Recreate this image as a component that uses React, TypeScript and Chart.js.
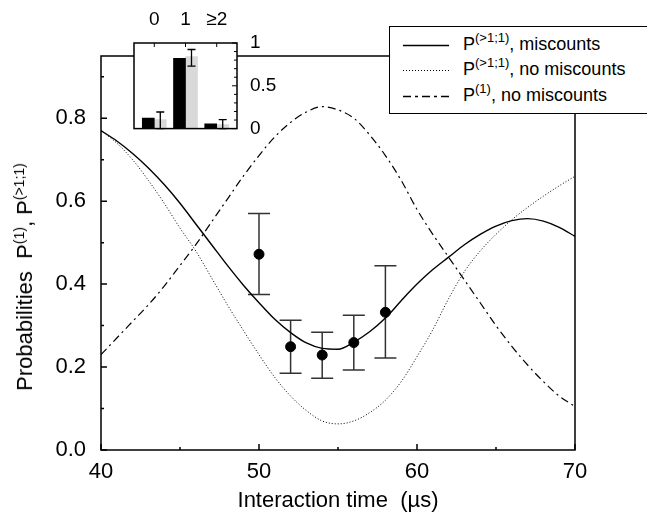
import React, { useEffect, useRef } from 'react';
import { Chart, registerables } from 'chart.js';

Chart.register(...registerables);

const FONT = '"Liberation Sans", Arial, Helvetica, sans-serif';

// Interaction time grid (µs)
const TIME = [40, 41, 42, 43, 44, 45, 46, 47, 48, 49, 50, 51, 52, 53, 54, 55, 56, 57, 58, 59, 60, 61, 62, 63, 64, 65, 66, 67, 68, 69, 70];
// P(>1;1), miscounts (solid)
const P_GT1_MISCOUNTS = [0.77, 0.745, 0.715, 0.68, 0.64, 0.595, 0.545, 0.495, 0.445, 0.398, 0.355, 0.315, 0.283, 0.258, 0.245, 0.243, 0.26, 0.285, 0.318, 0.36, 0.4, 0.435, 0.465, 0.495, 0.52, 0.54, 0.553, 0.558, 0.552, 0.537, 0.515];
// P(>1;1), no miscounts (dotted)
const P_GT1_NO_MISCOUNTS = [0.77, 0.74, 0.7, 0.65, 0.595, 0.535, 0.48, 0.415, 0.35, 0.289, 0.23, 0.175, 0.13, 0.095, 0.07, 0.063, 0.07, 0.09, 0.12, 0.165, 0.225, 0.29, 0.365, 0.43, 0.48, 0.52, 0.555, 0.585, 0.612, 0.637, 0.66];
// P(1), no miscounts (dash-dot)
const P1_NO_MISCOUNTS = [0.23, 0.27, 0.31, 0.35, 0.395, 0.445, 0.495, 0.55, 0.605, 0.66, 0.71, 0.755, 0.79, 0.815, 0.828, 0.82, 0.8, 0.76, 0.71, 0.65, 0.58, 0.52, 0.465, 0.41, 0.355, 0.3, 0.25, 0.205, 0.165, 0.13, 0.105];

// Measured points with error bars
const MEAS_T = [50, 52, 54, 56, 58];
const MEAS_P = [0.472, 0.249, 0.229, 0.259, 0.332];
const MEAS_LO = [0.375, 0.185, 0.173, 0.193, 0.222];
const MEAS_HI = [0.57, 0.313, 0.284, 0.325, 0.444];

// Axis ticks
const X_TICKS = [40, 50, 60, 70];
const X_MINOR = [45, 55, 65];
const Y_TICKS = [0, 0.2, 0.4, 0.6, 0.8];
const Y_MINOR = [0.1, 0.3, 0.5, 0.7, 0.9];

// Inset histogram
const INSET_CATS = ['0', '1', '\u22652'];
const INSET_THEORY = [0.124, 0.822, 0.055]; // black bars
const INSET_MEASURED = [0.105, 0.841, 0.047]; // gray bars
const INSET_ERR_LO = [0.0, 0.73, 0.0];
const INSET_ERR_HI = [0.194, 0.924, 0.105];
const INSET_Y_TICKS = [0, 0.5, 1];
const INSET_Y_MINOR = [0.1, 0.2, 0.3, 0.4, 0.6, 0.7, 0.8, 0.9];

const mainDecor = {
  id: 'mainDecor',
  beforeDatasetsDraw(chart: any) {
    const { ctx, scales } = chart;
    const x = scales.x, y = scales.y;
    ctx.save();
    ctx.strokeStyle = '#333';
    ctx.lineWidth = 1.5;
    MEAS_T.forEach((t, i) => {
      const px = x.getPixelForValue(t);
      const lo = y.getPixelForValue(MEAS_LO[i]);
      const hi = y.getPixelForValue(MEAS_HI[i]);
      ctx.beginPath();
      ctx.moveTo(px, lo); ctx.lineTo(px, hi);
      ctx.moveTo(px - 11, lo); ctx.lineTo(px + 11, lo);
      ctx.moveTo(px - 11, hi); ctx.lineTo(px + 11, hi);
      ctx.stroke();
    });
    ctx.restore();
  },
  afterDraw(chart: any) {
    const { ctx, chartArea: a, scales } = chart;
    const x = scales.x, y = scales.y;
    ctx.save();
    ctx.strokeStyle = '#000';
    ctx.lineWidth = 1.5;
    ctx.strokeRect(a.left, a.top, a.right - a.left, a.bottom - a.top);
    ctx.beginPath();
    X_TICKS.forEach(v => { const p = x.getPixelForValue(v); ctx.moveTo(p, a.bottom); ctx.lineTo(p, a.bottom - 6); });
    X_MINOR.forEach(v => { const p = x.getPixelForValue(v); ctx.moveTo(p, a.bottom); ctx.lineTo(p, a.bottom - 3); });
    Y_TICKS.forEach(v => { const p = y.getPixelForValue(v); ctx.moveTo(a.left, p); ctx.lineTo(a.left + 6, p); });
    Y_MINOR.forEach(v => { const p = y.getPixelForValue(v); ctx.moveTo(a.left, p); ctx.lineTo(a.left + 3, p); });
    ctx.stroke();
    ctx.restore();
  },
};

const insetDecor = {
  id: 'insetDecor',
  beforeDraw(chart: any) {
    const { ctx, chartArea: a } = chart;
    ctx.save();
    ctx.fillStyle = '#fff';
    ctx.fillRect(a.left, a.top, a.right - a.left, a.bottom - a.top);
    ctx.restore();
  },
  afterDatasetsDraw(chart: any) {
    const { ctx, chartArea: a, scales } = chart;
    const x = scales.x, y = scales.y;
    const meta = chart.getDatasetMeta(1);
    ctx.save();
    ctx.strokeStyle = '#000';
    ctx.lineWidth = 1.3;
    meta.data.forEach((bar: any, i: number) => {
      const px = bar.x;
      const lo = y.getPixelForValue(INSET_ERR_LO[i]);
      const hi = y.getPixelForValue(INSET_ERR_HI[i]);
      ctx.beginPath();
      ctx.moveTo(px, lo); ctx.lineTo(px, hi);
      ctx.moveTo(px - 4, lo); ctx.lineTo(px + 4, lo);
      ctx.moveTo(px - 4, hi); ctx.lineTo(px + 4, hi);
      ctx.stroke();
    });
    ctx.lineWidth = 1.5;
    ctx.strokeRect(a.left, a.top, a.right - a.left, a.bottom - a.top);
    ctx.lineWidth = 1;
    ctx.beginPath();
    [0, 1, 2].forEach(v => { const p = x.getPixelForValue(v); ctx.moveTo(p, a.top); ctx.lineTo(p, a.top + 4); });
    INSET_Y_TICKS.forEach(v => { const p = y.getPixelForValue(v); ctx.moveTo(a.right, p); ctx.lineTo(a.right - 5, p); });
    INSET_Y_MINOR.forEach(v => { const p = y.getPixelForValue(v); ctx.moveTo(a.right, p); ctx.lineTo(a.right - 3, p); });
    ctx.stroke();
    ctx.restore();
  },
};

export default function App() {
  const mainRef = useRef<HTMLCanvasElement | null>(null);
  const insetRef = useRef<HTMLCanvasElement | null>(null);

  useEffect(() => {
    Chart.defaults.font.family = FONT;
    Chart.defaults.color = '#000';
    const line = (vals: number[]) => TIME.map((t, i) => ({ x: t, y: vals[i] }));
    const main = new Chart(mainRef.current as HTMLCanvasElement, {
      type: 'line',
      data: {
        datasets: [
          {
            type: 'scatter',
            label: 'measured',
            data: MEAS_T.map((t, i) => ({ x: t, y: MEAS_P[i] })),
            backgroundColor: '#000',
            borderColor: '#000',
            pointRadius: 5,
            showLine: false,
          } as any,
          {
            label: 'P(>1;1), miscounts',
            data: line(P_GT1_MISCOUNTS),
            borderColor: '#000',
            borderWidth: 1.4,
            pointRadius: 0,
            cubicInterpolationMode: 'monotone',
            fill: false,
          },
          {
            label: 'P(>1;1), no miscounts',
            data: line(P_GT1_NO_MISCOUNTS),
            borderColor: '#000',
            borderWidth: 1,
            borderDash: [1, 2],
            pointRadius: 0,
            cubicInterpolationMode: 'monotone',
            fill: false,
          },
          {
            label: 'P(1), no miscounts',
            data: line(P1_NO_MISCOUNTS),
            borderColor: '#000',
            borderWidth: 1.2,
            borderDash: [8, 4, 2, 4],
            pointRadius: 0,
            cubicInterpolationMode: 'monotone',
            fill: false,
          },
        ],
      },
      options: {
        responsive: false,
        animation: false,
        devicePixelRatio: 1,
        layout: { padding: { left: 0, right: 72, top: 56, bottom: 0 } },
        plugins: { legend: { display: false }, tooltip: { enabled: false } },
        scales: {
          x: {
            type: 'linear',
            min: 40,
            max: 70,
            afterBuildTicks: (s: any) => { s.ticks = X_TICKS.map(v => ({ value: v })); },
            afterFit: (s: any) => { s.height = 66; },
            grid: { display: false, drawTicks: false },
            border: { display: false },
            ticks: { font: { size: 22 }, color: '#000', padding: 9, callback: (v: any) => String(v), maxRotation: 0 },
            title: { display: true, text: 'Interaction time  (\u00b5s)', font: { size: 22 }, color: '#000', padding: { top: 0, bottom: 2 } },
          },
          y: {
            type: 'linear',
            min: 0,
            max: 0.95,
            afterBuildTicks: (s: any) => { s.ticks = Y_TICKS.map(v => ({ value: v })); },
            afterFit: (s: any) => { s.width = 101; },
            grid: { display: false, drawTicks: false },
            border: { display: false },
            ticks: { font: { size: 22 }, color: '#000', padding: 15, callback: (v: any) => Number(v).toFixed(1) },
          },
        },
      },
      plugins: [mainDecor],
    });

    const inset = new Chart(insetRef.current as HTMLCanvasElement, {
      type: 'bar',
      data: {
        datasets: [
          {
            label: 'theory',
            data: INSET_THEORY.map((v, i) => ({ x: i, y: v })),
            backgroundColor: '#000',
            barThickness: 12,
          },
          {
            label: 'measured',
            data: INSET_MEASURED.map((v, i) => ({ x: i, y: v })),
            backgroundColor: '#d9d9d9',
            barThickness: 12,
          },
        ],
      },
      options: {
        responsive: false,
        animation: false,
        devicePixelRatio: 1,
        layout: { padding: { left: 14, right: 0, top: 0, bottom: 0 } },
        plugins: { legend: { display: false }, tooltip: { enabled: false } },
        scales: {
          x: {
            type: 'linear',
            position: 'top',
            offset: false,
            min: -0.65,
            max: 2.65,
            afterBuildTicks: (s: any) => { s.ticks = [0, 1, 2].map(v => ({ value: v })); },
            afterFit: (s: any) => { s.height = 43; },
            grid: { display: false, drawTicks: false, offset: false },
            border: { display: false },
            ticks: { font: { size: 19 }, color: '#000', padding: 12, maxRotation: 0, callback: (v: any) => INSET_CATS[Number(v)] },
          },
          y: {
            type: 'linear',
            position: 'right',
            min: 0,
            max: 1,
            afterBuildTicks: (s: any) => { s.ticks = INSET_Y_TICKS.map(v => ({ value: v })); },
            afterFit: (s: any) => { s.width = 63; },
            grid: { display: false, drawTicks: false },
            border: { display: false },
            ticks: { font: { size: 19 }, color: '#000', padding: 13, callback: (v: any) => String(v) },
          },
        },
      },
      plugins: [insetDecor],
    });

    return () => { main.destroy(); inset.destroy(); };
  }, []);

  const legendRow = (top: number, dash: string | undefined, width: number, label: React.ReactNode) => (
    <div style={{ position: 'absolute', left: 0, top, height: 24, width: 280, display: 'flex', alignItems: 'center' }}>
      <svg width={60} height={24} style={{ display: 'block', flex: 'none' }}>
        <line x1={13} y1={12.5} x2={59} y2={12.5} stroke="#000" strokeWidth={width} strokeDasharray={dash} />
      </svg>
      <span style={{ marginLeft: 13, whiteSpace: 'nowrap', lineHeight: '24px' }}>{label}</span>
    </div>
  );

  const sup = (s: string, size: number) => (
    <sup style={{ fontSize: size, verticalAlign: 'baseline', position: 'relative', top: -size * 0.6 }}>{s}</sup>
  );

  return (
    <div style={{ position: 'absolute', left: 0, top: 0, width: 647, height: 516, overflow: 'hidden', background: '#fff', fontFamily: FONT }}>
      <canvas ref={mainRef} width={647} height={516} style={{ position: 'absolute', left: 0, top: 0, width: 647, height: 516 }} />
      <canvas ref={insetRef} width={180} height={153} style={{ position: 'absolute', left: 120, top: 0, width: 180, height: 153 }} />
      <div
        style={{
          position: 'absolute', left: 389, top: 26, width: 290, height: 88, border: '1.5px solid #000',
          boxSizing: 'border-box', background: '#fff', fontSize: 18, color: '#000',
        }}
      >
        {legendRow(6, undefined, 1.4, <>P{sup('(>1;1)', 13)}, miscounts</>)}
        {legendRow(31, '1 2', 1, <>P{sup('(>1;1)', 13)}, no miscounts</>)}
        {legendRow(57, '8 4 3 4', 1.3, <>P{sup('(1)', 13)}, no miscounts</>)}
      </div>
      <div
        style={{
          position: 'absolute', left: 26, top: 277, transform: 'translate(-50%, -50%) rotate(-90deg)',
          whiteSpace: 'nowrap', fontSize: 22, lineHeight: '26px', color: '#000',
        }}
      >
        Probabilities&nbsp;&nbsp;P{sup('(1)', 14)}, P{sup('(>1;1)', 14)}
      </div>
    </div>
  );
}
